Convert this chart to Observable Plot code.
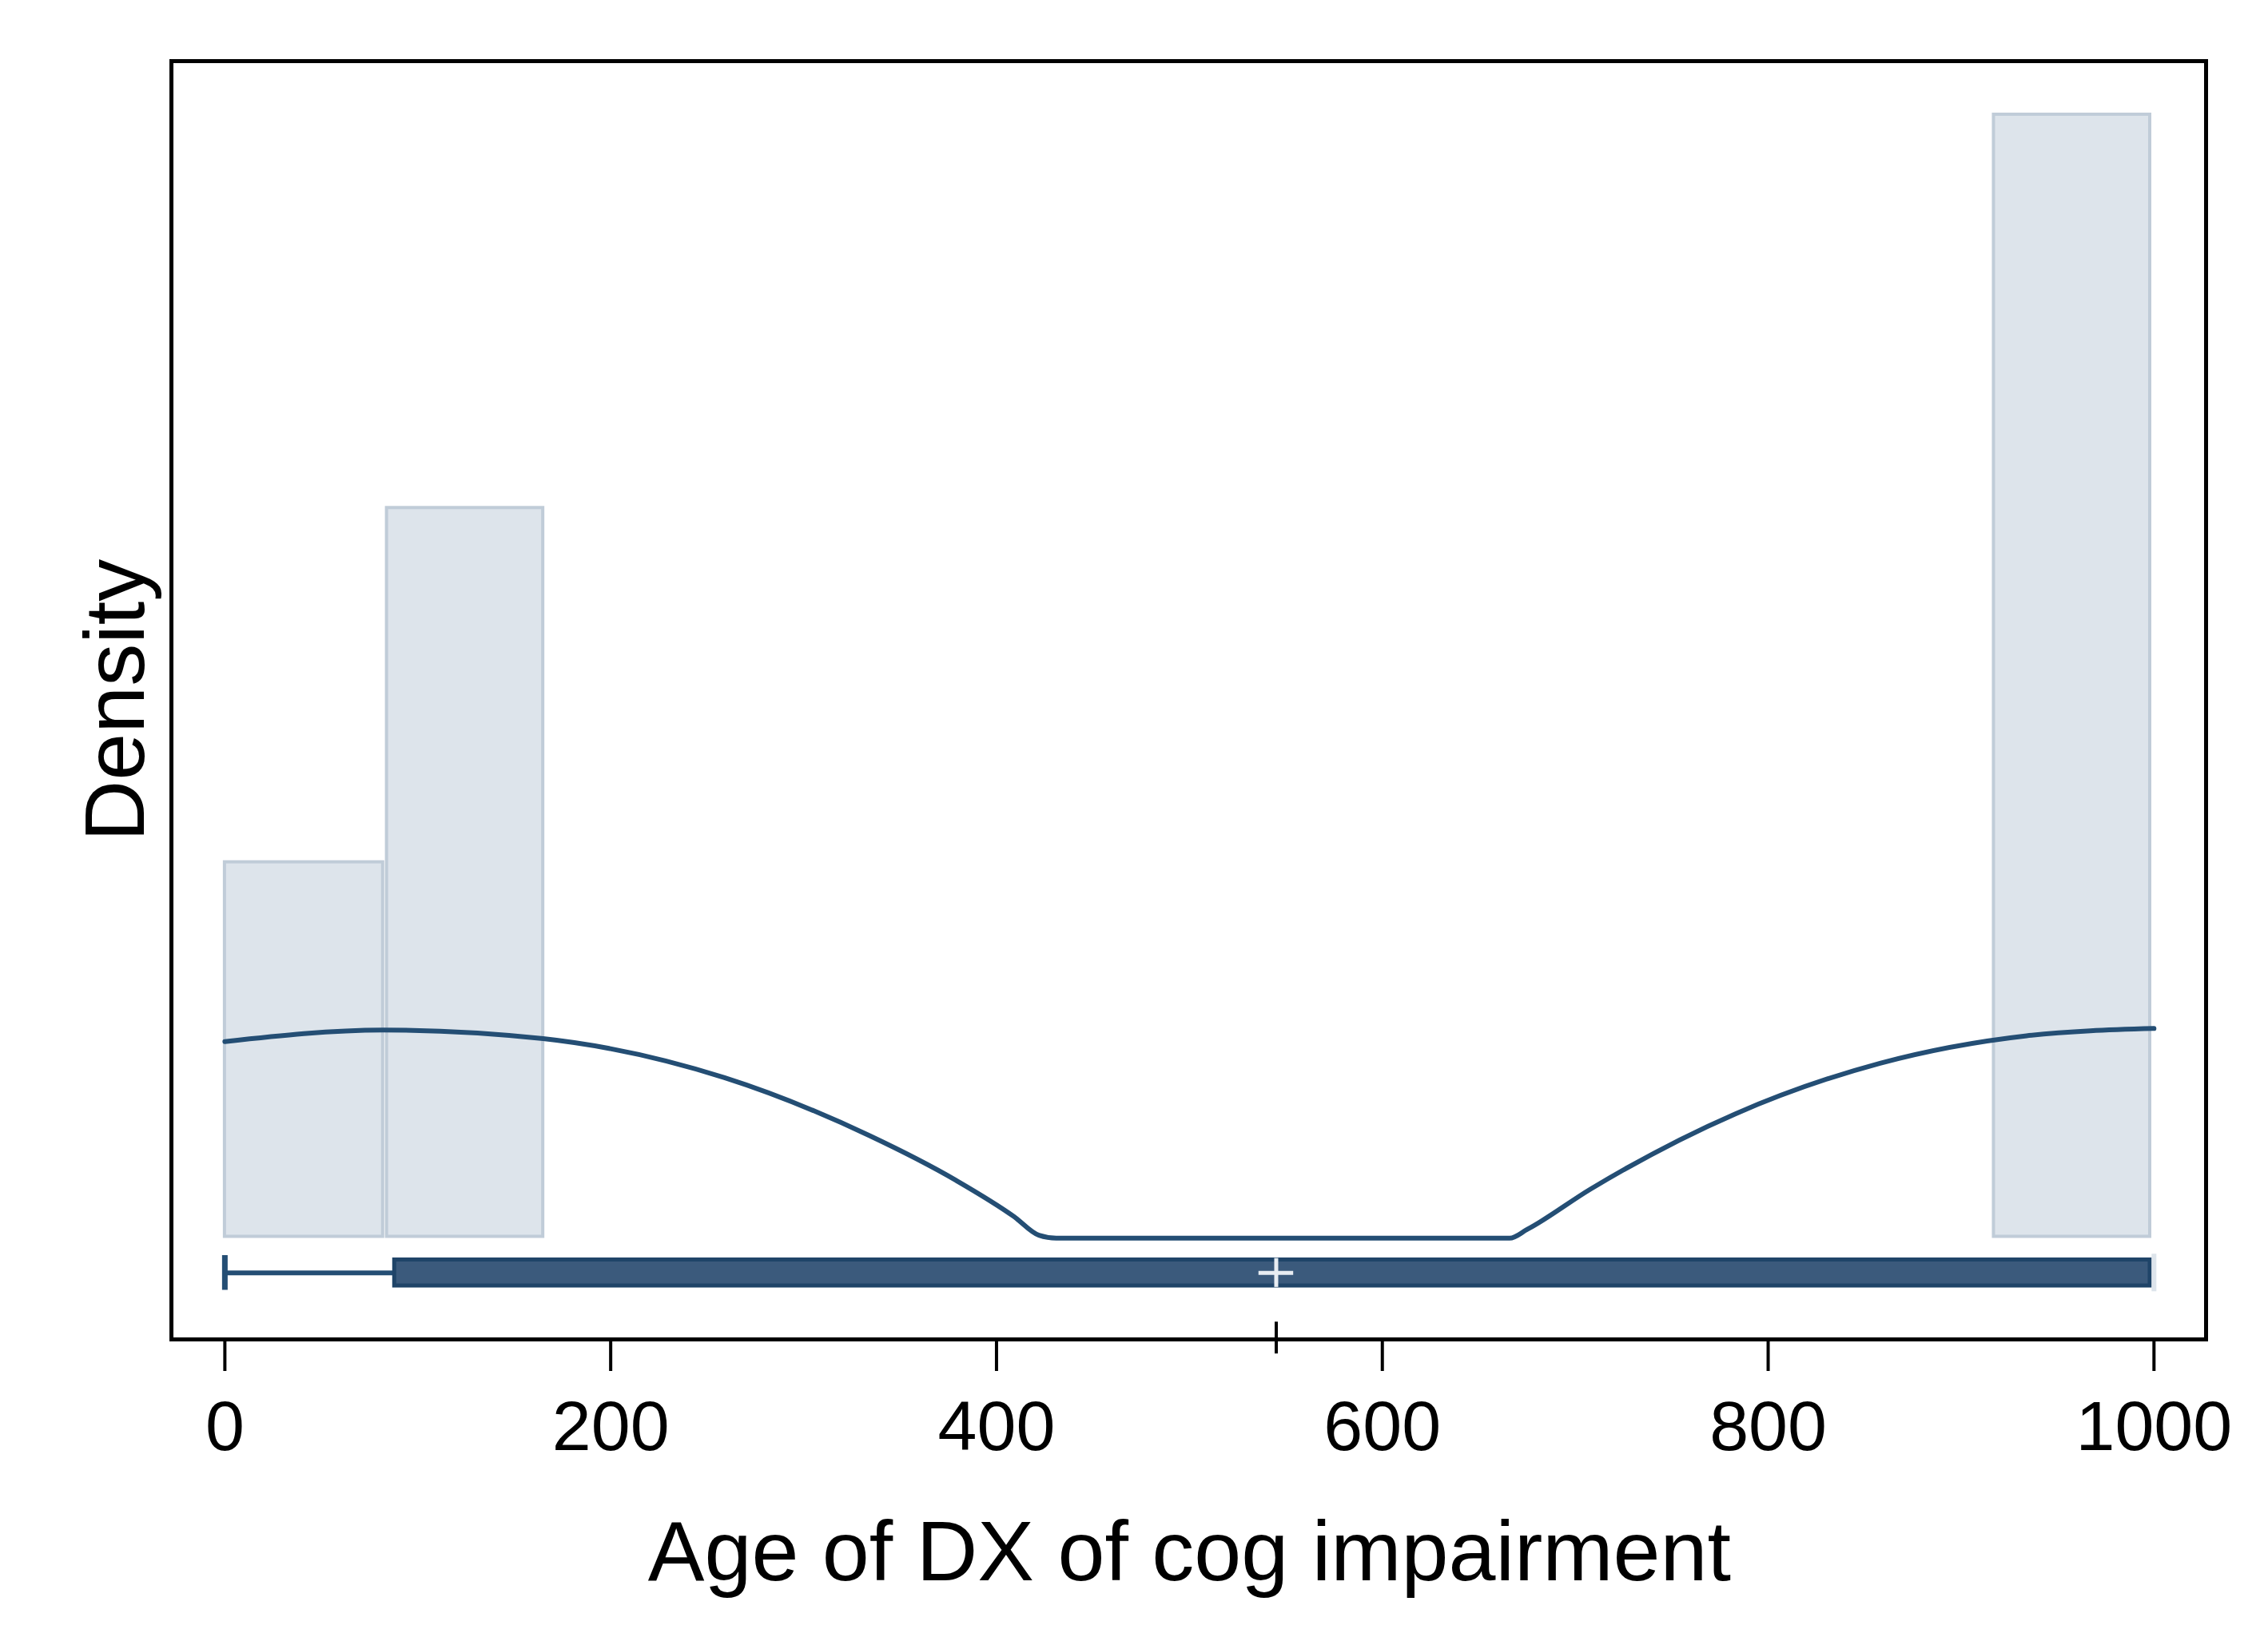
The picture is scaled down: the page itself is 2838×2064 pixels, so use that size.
<!DOCTYPE html>
<html><head><meta charset="utf-8">
<script src="https://cdn.jsdelivr.net/npm/d3@7"></script>
<script src="https://cdn.jsdelivr.net/npm/@observablehq/plot@0.6"></script>
<style>body{margin:0;background:#fff;font-family:Arial,"Liberation Sans",sans-serif}</style>
</head><body><div id="chart"></div>
<script>
// Histogram bins (age) and heights (relative density units)
const binStart = [0, 84, 917];
const binEnd = [82, 165, 998];
const binHeight = [330, 575, 847];
const base = 71;
// Density curve
const curveX = [0, 82, 165, 259, 334, 379, 409, 422, 431, 666, 675, 708, 783, 858, 934, 1000];
const curveY = [206, 214, 208, 181, 141, 110, 85, 72, 70, 70, 76, 104, 156, 191, 210, 215];
// Box plot summary
const whiskerLo = 0, q1 = 88, median = 545, q3 = 998, whiskerHi = 1000;
const xTicks = [0, 200, 400, 600, 800, 1000];

const bins = binStart.map((s, i) => ({x1: s, x2: binEnd[i], y: binHeight[i]}));
const curve = curveX.map((x, i) => ({x, y: curveY[i]}));

const plot = Plot.plot({
  width: 2838, height: 2064,
  marginLeft: 214, marginRight: 78, marginTop: 76, marginBottom: 388,
  style: {fontSize: "88px", fontFamily: "Arial, 'Liberation Sans', sans-serif", color: "#000"},
  x: {domain: [-27.7, 1027], ticks: xTicks, tickFormat: d => String(d), tickSize: 40, tickPadding: 36, label: null},
  y: {domain: [0, 884], axis: null},
  marks: [
    Plot.rect(bins, {x1: "x1", x2: "x2", y1: base, y2: "y", fill: "#dde4eb", stroke: "#c0ccd8", strokeWidth: 4}),
    Plot.line(curve, {x: "x", y: "y", stroke: "#244e74", strokeWidth: 6, curve: "monotone-x"}),
    Plot.ruleY([46], {x1: whiskerLo, x2: q1, stroke: "#244e74", strokeWidth: 6}),
    Plot.ruleX([whiskerLo], {y1: 34, y2: 58, stroke: "#244e74", strokeWidth: 7}),
    Plot.rect([0], {x1: q1, x2: q3, y1: 37, y2: 55, fill: "#3b5a7c", stroke: "#1f4468", strokeWidth: 5}),
    Plot.ruleX([whiskerHi], {y1: 33, y2: 59, stroke: "#dde4eb", strokeWidth: 6}),
    Plot.ruleY([46], {x1: median - 9, x2: median + 9, stroke: "#e8edf2", strokeWidth: 5}),
    Plot.ruleX([median], {y1: 36, y2: 56, stroke: "#e8edf2", strokeWidth: 5}),
    Plot.ruleX([median], {y1: -10, y2: 12, stroke: "#000", strokeWidth: 4}),
    Plot.frame({stroke: "#000", strokeWidth: 5}),
    Plot.text(["Age of DX of cog impairment"], {x: 500, y: -148, fontSize: 106, fill: "#000"}),
    Plot.text(["Density"], {x: -56, y: 442, rotate: -90, fontSize: 106, fill: "#000"})
  ]
});
plot.querySelectorAll("[aria-label='x-axis tick']").forEach(e=>e.setAttribute("stroke-width","4"));
document.getElementById("chart").append(plot);
</script></body></html>
